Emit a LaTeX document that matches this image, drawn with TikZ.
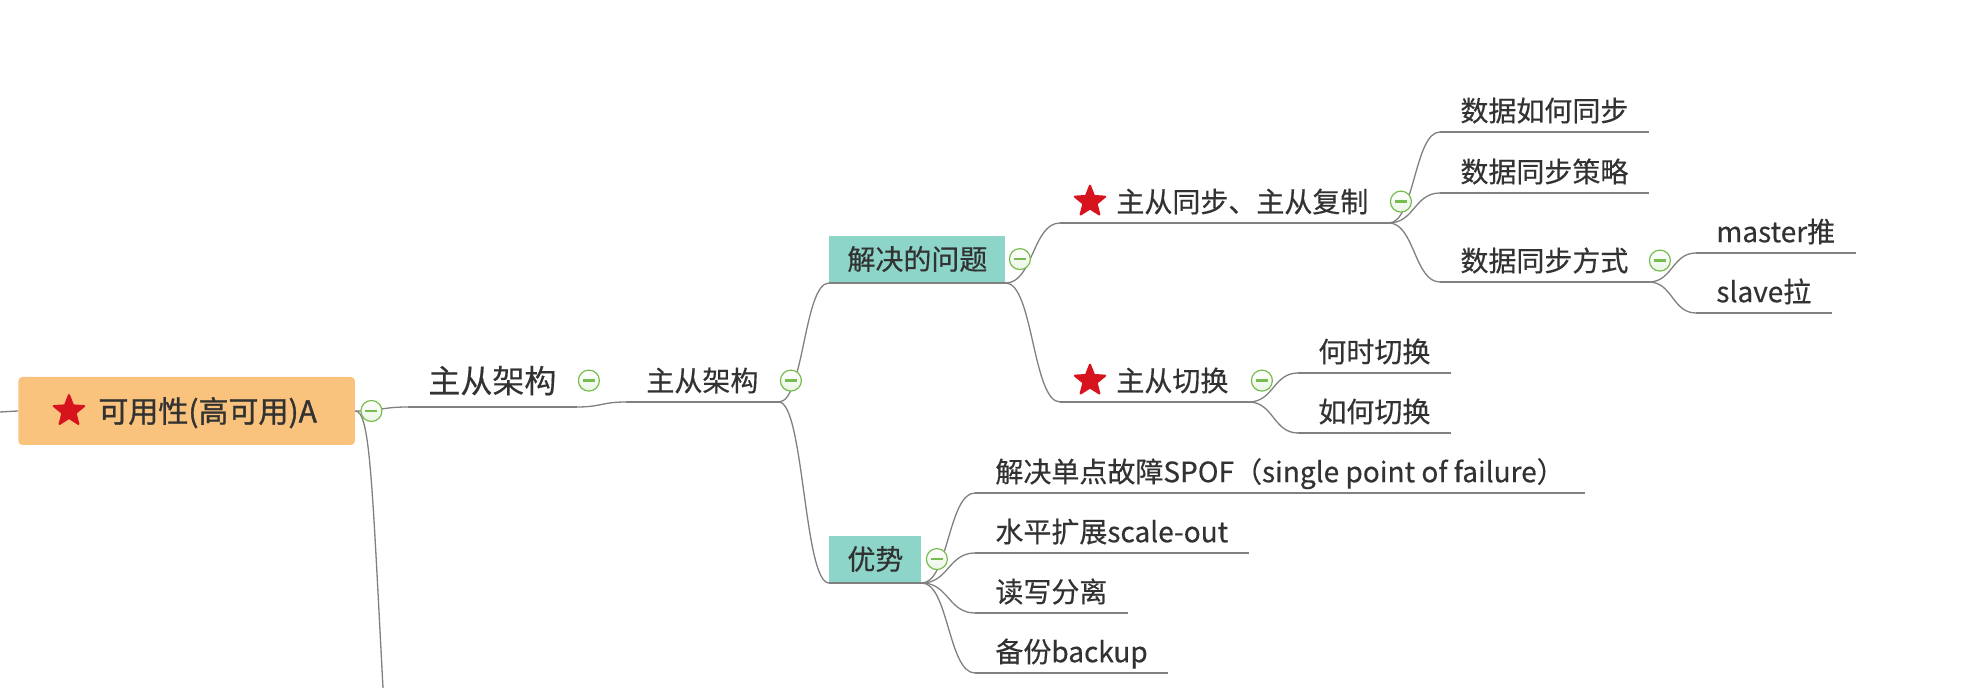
\documentclass[tikz,border=0pt]{standalone}
\usepackage{fontspec}
\setmainfont{Noto Sans CJK SC}[FakeBold=0.4]
\newfontfamily\rootfont{Noto Sans CJK SC}[FakeBold=1.1]
\usepackage{tikz}
\usetikzlibrary{shapes.geometric,positioning,calc}

\definecolor{rootorange}{RGB}{249,195,126}
\definecolor{boxteal}{RGB}{141,213,200}
\definecolor{starred}{RGB}{215,20,30}
\definecolor{inkgray}{RGB}{50,50,50}
\definecolor{linegray}{RGB}{128,128,128}
\definecolor{foldgreen}{RGB}{118,188,78}

\tikzset{
  branch/.style={draw=linegray, line width=0.65pt},
  mm/.style={to path={.. controls ($(\tikztostart)!0.5!(\tikztostart -| \tikztotarget)$) and ($(\tikztotarget)!0.5!(\tikztotarget -| \tikztostart)$) .. (\tikztotarget)}},
  leaf/.style={inner xsep=10pt, inner ysep=0pt, minimum height=21pt, text height=12.3pt, text depth=1.7pt, text=inkgray, font=\fontsize{14}{16}\selectfont},
  topic/.style={leaf, fill=boxteal, minimum height=23.5pt, inner xsep=9pt},
  central/.style={fill=rootorange, rounded corners=2pt, minimum height=34pt, inner xsep=19pt, inner ysep=0pt, text height=13.2pt, text depth=1.8pt, text=inkgray, font=\rootfont\fontsize{15}{17}\selectfont},
  fold/.style={circle, draw=foldgreen, line width=0.6pt, top color=white, bottom color=foldgreen!15, minimum size=10.5pt, inner sep=0pt,
    path picture={\draw[foldgreen, line width=1.1pt] ([xshift=-3pt]path picture bounding box.center) -- ([xshift=3pt]path picture bounding box.center);}},
  starmark/.style={star, star points=5, star point ratio=2.3, fill=starred, draw=starred, line join=round, line width=1pt, inner sep=0pt, minimum size=16pt},
}

\begin{document}
\begin{tikzpicture}[x=0.5pt,y=0.5pt,yscale=-1]
    \useasboundingbox (0,0) rectangle (1972,688);

    % Text Node
    \draw (18,411) node [central, anchor=west] (root) {\hspace*{21pt}可用性(高可用)A};
    \node [starmark] (rootstar) at ([xshift=25.5pt]root.west) {};
    % Text Node
    \draw (408,407) node [leaf, anchor=south west, minimum height=26pt, text height=14.1pt, text depth=1.9pt, font=\fontsize{16}{18}\selectfont] (arch) {主从架构};
    % Text Node
    \draw (626,402) node [leaf, anchor=south west] (archsub) {主从架构};
    % Text Node
    \draw (829,283) node [topic, anchor=south west] (issue) {解决的问题};
    % Text Node
    \draw (829,583) node [topic, anchor=south west] (merit) {优势};
    % Text Node
    \draw (1060,223) node [leaf, anchor=south west] (sync) {\hspace*{18pt}主从同步、主从复制};
    \node [starmark] (syncstar) at ([xshift=15pt]sync.west) {};
    % Text Node
    \draw (1060,402) node [leaf, anchor=south west] (switch) {\hspace*{18pt}主从切换};
    \node [starmark] (switchstar) at ([xshift=15pt]switch.west) {};
    % Text Node
    \draw (1440,132) node [leaf, anchor=south west] (synchow) {数据如何同步};
    \draw (1440,193) node [leaf, anchor=south west] (syncpolicy) {数据同步策略};
    \draw (1440,282) node [leaf, anchor=south west] (syncmode) {数据同步方式};
    % Text Node
    \draw (1696,253) node [leaf, anchor=south west] (push) {master推};
    \draw (1696,313) node [leaf, anchor=south west] (pull) {slave拉};
    % Text Node
    \draw (1298,373) node [leaf, anchor=south west] (when) {何时切换};
    \draw (1298,433) node [leaf, anchor=south west] (how) {如何切换};
    % Text Node
    \draw (975,493) node [leaf, anchor=south west] (spof) {解决单点故障SPOF（single point of failure）};
    \draw (975,553) node [leaf, anchor=south west] (scaleout) {水平扩展scale-out};
    \draw (975,613) node [leaf, anchor=south west] (rwsplit) {读写分离};
    \draw (975,673) node [leaf, anchor=south west] (backup) {备份backup};

    %Straight Lines (underlines)
    \draw [branch] (arch.south west) -- (arch.south east);
    \draw [branch] (archsub.south west) -- (archsub.south east);
    \draw [branch] (issue.south west) -- (issue.south east);
    \draw [branch] (merit.south west) -- (merit.south east);
    \draw [branch] (sync.south west) -- (sync.south east);
    \draw [branch] (switch.south west) -- (switch.south east);
    \draw [branch] (synchow.south west) -- (synchow.south east);
    \draw [branch] (syncpolicy.south west) -- (syncpolicy.south east);
    \draw [branch] (syncmode.south west) -- (syncmode.south east);
    \draw [branch] (push.south west) -- (push.south east);
    \draw [branch] (pull.south west) -- (pull.south east);
    \draw [branch] (when.south west) -- (when.south east);
    \draw [branch] (how.south west) -- (how.south east);
    \draw [branch] (spof.south west) -- (spof.south east);
    \draw [branch] (scaleout.south west) -- (scaleout.south east);
    \draw [branch] (rwsplit.south west) -- (rwsplit.south east);
    \draw [branch] (backup.south west) -- (backup.south east);

    %Curve Lines
    \coordinate (offleft) at (0,412);
    \coordinate (offdown) at (383,688);
    \draw [branch] (offleft) -- (root.west);
    \draw [branch] (root.east) .. controls (370,411) and (372,480) .. (offdown);
    \draw [branch] (root.east) to[mm] (arch.south west);
    \draw [branch] (arch.south east) to[mm] (archsub.south west);
    \draw [branch] (archsub.south east) to[mm] (issue.south west);
    \draw [branch] (archsub.south east) to[mm] (merit.south west);
    \draw [branch] (issue.south east) to[mm] (sync.south west);
    \draw [branch] (issue.south east) to[mm] (switch.south west);
    \draw [branch] (sync.south east) to[mm] (synchow.south west);
    \draw [branch] (sync.south east) to[mm] (syncpolicy.south west);
    \draw [branch] (sync.south east) to[mm] (syncmode.south west);
    \draw [branch] (syncmode.south east) to[mm] (push.south west);
    \draw [branch] (syncmode.south east) to[mm] (pull.south west);
    \draw [branch] (switch.south east) to[mm] (when.south west);
    \draw [branch] (switch.south east) to[mm] (how.south west);
    \draw [branch] (merit.south east) to[mm] (spof.south west);
    \draw [branch] (merit.south east) to[mm] (scaleout.south west);
    \draw [branch] (merit.south east) to[mm] (rwsplit.south west);
    \draw [branch] (merit.south east) to[mm] (backup.south west);

    %Shape: Circle (fold markers)
    \node [fold, right=2.5pt of root] (rootfold) {};
    \node [fold, right=0.5pt of arch] (archfold) {};
    \node [fold, right=0.5pt of archsub] (archsubfold) {};
    \node [fold, right=1.5pt of issue] (issuefold) {};
    \node [fold, right=2pt of merit] (meritfold) {};
    \node [fold, right=0.5pt of sync] (syncfold) {};
    \node [fold, right=1pt of switch] (switchfold) {};
    \node [fold, right=0pt of syncmode] (syncmodefold) {};

\end{tikzpicture}
\end{document}
